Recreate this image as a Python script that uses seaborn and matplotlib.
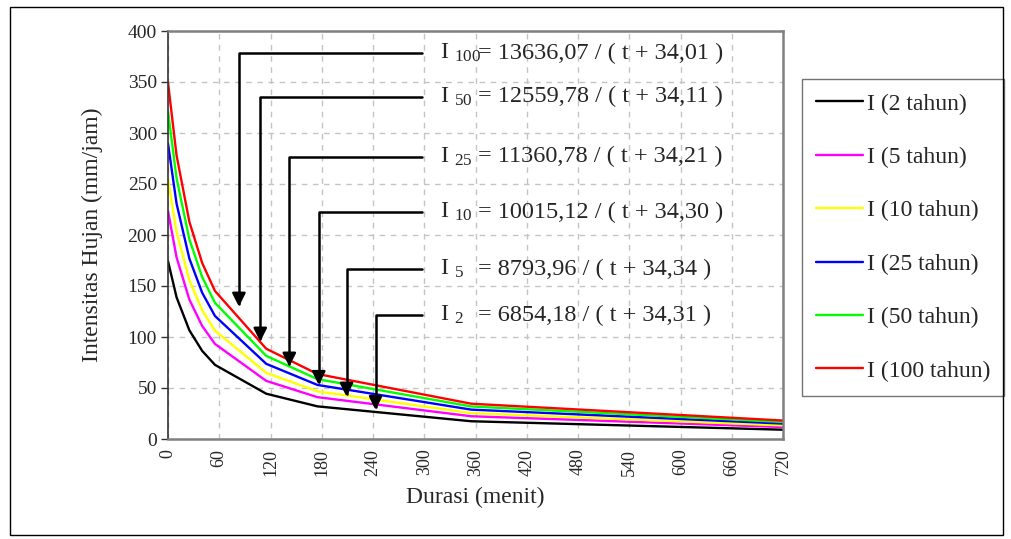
import matplotlib
matplotlib.use('Agg')
import matplotlib.pyplot as plt
from matplotlib.patches import Rectangle
import seaborn as sns
import pandas as pd

# Durations (minutes, as placed on the axis) and rain intensity (mm/jam)
durasi = [0, 10, 25, 40, 55, 115, 175, 355, 720]
i_2 = [174.4, 139.0, 106.6, 86.4, 72.7, 44.4, 32.0, 17.4, 9.1]
i_5 = [223.5, 178.2, 136.7, 110.8, 93.2, 57.0, 41.0, 22.3, 11.7]
i_10 = [254.8, 203.2, 155.8, 126.3, 106.2, 64.9, 46.7, 25.4, 13.3]
i_25 = [289.7, 230.9, 176.9, 143.4, 120.6, 73.7, 53.0, 28.8, 15.1]
i_50 = [321.1, 255.8, 195.9, 158.8, 133.5, 81.5, 58.7, 31.9, 16.7]
i_100 = [349.6, 278.2, 213.0, 172.6, 145.1, 88.5, 63.7, 34.6, 18.1]

periode = [2, 5, 10, 25, 50, 100]
warna = ['#000000', '#FF00FF', '#FFFF00', '#0000FF', '#00FF00', '#FF0000']

# Talbot equations shown on the chart: I = a / (t + b)
koef_a = [6854.18, 8793.96, 10015.12, 11360.78, 12559.78, 13636.07]
koef_b = [34.31, 34.34, 34.30, 34.21, 34.11, 34.01]

# Where each leader line sits and where its arrow points (t, I)
label_y = [121.6, 166.7, 222.3, 276.8, 335.6, 378.1]
panah_t = [243, 209, 176.5, 142, 108, 83]
panah_i = [28.4, 41.5, 52.9, 70.9, 95.4, 129.7]

x_ticks = list(range(0, 721, 60))
y_ticks = list(range(0, 401, 50))

sns.set_style('white')
plt.rcParams['font.family'] = ['Liberation Serif', 'DejaVu Serif']
plt.rcParams['mathtext.fontset'] = 'custom'
plt.rcParams['mathtext.rm'] = 'Liberation Serif'
plt.rcParams['mathtext.it'] = 'Liberation Serif:italic'

W, H = 1012, 539
fig = plt.figure(figsize=(W / 100, H / 100), dpi=100)
ax = fig.add_axes([168 / W, 1 - 439 / H, (783 - 168) / W, (439 - 31) / H])

seri = [i_2, i_5, i_10, i_25, i_50, i_100]
for p, vals, c in zip(periode, seri, warna):
    df = pd.DataFrame({'t': durasi, 'I': vals})
    sns.lineplot(data=df, x='t', y='I', color=c, lw=1.7, sort=False,
                 label='I (%d tahun)' % p, ax=ax)

ax.set_xlim(0, 720)
ax.set_ylim(0, 400)
ax.set_xticks(x_ticks)
ax.set_yticks(y_ticks)
ax.set_xticklabels([str(v) for v in x_ticks], rotation=90)
ax.grid(True, ls=(0, (4, 4)), color='#C4C4C4', lw=1)
ax.tick_params(axis='y', length=5, width=1, direction='out', pad=3,
               labelsize=14, left=True, color='#333333')
ax.tick_params(axis='x', length=0, pad=7, labelsize=13)
for s in ['top', 'right', 'bottom']:
    ax.spines[s].set_color('#808080')
    ax.spines[s].set_linewidth(1.8)
ax.spines['left'].set_color('#333333')
ax.spines['left'].set_linewidth(1.2)

ax.set_xlabel('Durasi (menit)', fontsize=17, labelpad=8)
ax.set_ylabel('Intensitas Hujan (mm/jam)', fontsize=17, labelpad=18)

# Equations with their leader arrows
for p, a, b, ly, pt, pi in zip(periode, koef_a, koef_b, label_y, panah_t, panah_i):
    ax.annotate('', xy=(pt, pi), xytext=(297, ly),
                arrowprops=dict(arrowstyle='-|>', color='k', lw=1.8,
                                mutation_scale=20, shrinkA=0, shrinkB=0,
                                connectionstyle='angle,angleA=180,angleB=90,rad=0'))
    ax.text(319, ly, r'I $_{\mathrm{%d}}$' % p, fontsize=17.5, va='center', ha='left')
    teks = '= %s / ( t + %s )' % (('%.2f' % a).replace('.', ','), ('%.2f' % b).replace('.', ','))
    ax.text(363, ly, teks, fontsize=17.5, va='center', ha='left')

leg = ax.legend(loc='upper left', bbox_to_anchor=(802 / W, 1 - 79 / H),
                bbox_transform=fig.transFigure, frameon=True, fancybox=False,
                edgecolor='#505050', fontsize=17, handlelength=2.0,
                handletextpad=0.15, labelspacing=1.35, borderpad=0.6,
                borderaxespad=0)
leg.get_frame().set_linewidth(1)

fig.patches.append(Rectangle((10 / W, 1 - 535 / H), 993 / W, 528 / H,
                             transform=fig.transFigure, fill=False,
                             ec='k', lw=1))

fig.savefig('out.png', dpi=100)
